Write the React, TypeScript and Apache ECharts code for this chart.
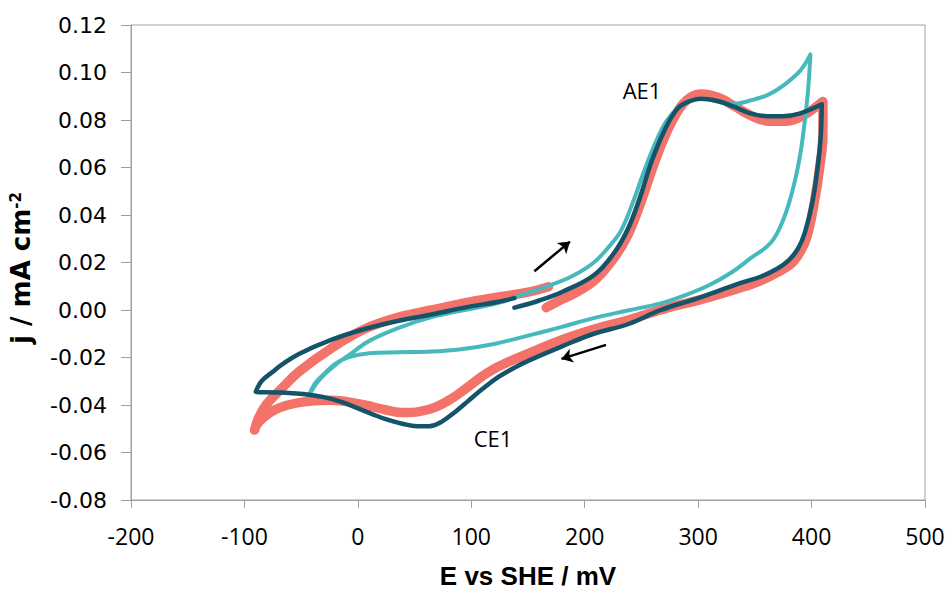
import React, { useEffect, useRef } from "react";
import * as echarts from "echarts";

// Potential E vs SHE (mV) and current density j (mA cm^-2), in scan order
const salmonScan: [number, number][] = [
  [166, 0.001], [180, 0.0045], [195, 0.008], [210, 0.013], [226, 0.022], [238, 0.0315],
  [250, 0.046], [260, 0.06], [271, 0.0735], [283, 0.0845], [293, 0.0895], [303, 0.091],
  [318, 0.0895], [333, 0.0855], [348, 0.0815], [363, 0.0795], [378, 0.0795], [393, 0.082],
  [410, 0.0878],
  [410, 0.074], [407, 0.0595], [402.5, 0.0455], [396, 0.031], [390, 0.0245], [382, 0.0195],
  [370, 0.0158], [355, 0.0123], [337, 0.0093], [303, 0.0045], [270, 0.0005], [240, -0.004],
  [210, -0.0078], [180, -0.0125], [152, -0.018], [124, -0.0238], [110, -0.0278], [96, -0.0328],
  [82, -0.0375], [68, -0.041], [54, -0.0428], [40, -0.0432], [24, -0.042], [6, -0.04],
  [-23, -0.038], [-52, -0.039], [-73, -0.042], [-87, -0.047], [-91, -0.0505],
  [-88, -0.046], [-81, -0.04], [-67, -0.033], [-52, -0.026], [-23, -0.016], [6, -0.008],
  [36, -0.003], [65, 0.0], [94, 0.003], [124, 0.0055], [150, 0.0075], [168, 0.0098],
];

const tealScan: [number, number][] = [
  [145, 0.0065], [170, 0.0105], [190, 0.0145], [208, 0.02], [222, 0.027], [232, 0.0334],
  [243, 0.046], [252, 0.058], [262, 0.07], [272, 0.0795], [283, 0.0855], [295, 0.0885],
  [305, 0.089], [317, 0.0878], [331, 0.0868], [346, 0.0882], [361, 0.0905], [375, 0.0945],
  [390, 0.1008], [399, 0.1076],
  [397, 0.093], [394, 0.0795], [390, 0.0655], [384, 0.0518], [375, 0.038], [364, 0.0283],
  [346, 0.0217], [330, 0.016], [310, 0.0105], [290, 0.0065], [267, 0.0028], [238, -0.0002],
  [208, -0.0034], [179, -0.0072], [150, -0.0108], [120, -0.0143], [91, -0.0165], [65, -0.0175],
  [36, -0.0178], [10, -0.0182], [-8, -0.0198], [-20, -0.0227], [-30, -0.027], [-38, -0.031],
  [-43, -0.036],
  [-35, -0.03], [-22, -0.024], [-5, -0.018], [10, -0.013], [36, -0.0075], [65, -0.003],
  [94, 0.0], [124, 0.003], [145, 0.0065],
];

const darkScan: [number, number][] = [
  [138, 0.001], [160, 0.004], [180, 0.0076], [208, 0.0146], [226, 0.0241], [238, 0.034],
  [249, 0.0477], [258, 0.0613], [270, 0.0753], [282, 0.0849], [293, 0.088], [302, 0.089],
  [317, 0.088], [331, 0.0857], [346, 0.0828], [361, 0.0816], [375, 0.0816], [390, 0.0828],
  [409, 0.0866],
  [408, 0.0725], [405, 0.0588], [400.5, 0.0448], [394, 0.0325], [388, 0.0258], [380, 0.021],
  [370, 0.0175], [355, 0.014], [337, 0.0113], [300, 0.005], [267, 0.0], [238, -0.006],
  [208, -0.01], [179, -0.0155], [152, -0.021], [138, -0.0243], [124, -0.0282], [110, -0.0332],
  [98, -0.038], [86, -0.0428], [74, -0.047], [63, -0.0489], [52, -0.0489], [40, -0.048],
  [26, -0.0462], [12, -0.0437], [-2, -0.041], [-16, -0.0385], [-30, -0.0367], [-48, -0.0354],
  [-68, -0.0347], [-90, -0.0345],
  [-85, -0.03], [-75, -0.026], [-67, -0.023], [-52, -0.0185], [-23, -0.0125], [6, -0.008],
  [36, -0.0045], [65, -0.0019], [94, 0.001], [124, 0.0035], [138, 0.005],
];

// Scan-direction arrows: [start, end] in (mV, mA cm^-2)
const anodicArrow: [number, number][] = [[155.6, 0.0163], [187.0, 0.0288]];
const cathodicArrow: [number, number][] = [[218.8, -0.0147], [179.5, -0.0206]];

const xTicks = { min: -200, max: 500, step: 100 };
const yTicks = { min: -0.08, max: 0.12, step: 0.02 };

const peakLabels = [
  { text: "AE1", x: 642, y: 90 },
  { text: "CE1", x: 493, y: 438 },
];

export default function App() {
  const ref = useRef<HTMLDivElement>(null);

  useEffect(() => {
    if (!ref.current) return;
    const chart = echarts.init(ref.current, null, { renderer: "svg" });
    const axisGray = "#a0a0a0";
    const lineSeries = (data: [number, number][], color: string, width: number) => ({
      type: "line",
      data,
      showSymbol: false,
      smooth: 0.4,
      silent: true,
      lineStyle: { color, width, cap: "round", join: "round" },
      itemStyle: { color },
    });

    chart.setOption({
      animation: false,
      grid: {
        left: 128,
        top: 25,
        right: 24,
        bottom: 85,
        show: true,
        borderColor: axisGray,
        borderWidth: 1,
      },
      xAxis: {
        type: "value",
        min: xTicks.min,
        max: xTicks.max,
        interval: xTicks.step,
        axisLine: { show: true, onZero: false, lineStyle: { color: axisGray, width: 1 } },
        axisTick: { show: true, length: 8, lineStyle: { color: axisGray } },
        splitLine: { show: false },
        axisLabel: {
          margin: 24,
          fontFamily: "Open Sans",
          fontSize: 23,
          color: "#000",
        },
        name: "E vs SHE / mV",
        nameLocation: "middle",
        nameGap: 63,
        nameTextStyle: {
          fontFamily: "Liberation Sans",
          fontWeight: "bold",
          fontSize: 26,
          color: "#000",
        },
      },
      yAxis: {
        type: "value",
        min: yTicks.min,
        max: yTicks.max,
        interval: yTicks.step,
        axisLine: { show: true, onZero: false, lineStyle: { color: axisGray, width: 1 } },
        axisTick: { show: true, length: 10, lineStyle: { color: axisGray } },
        splitLine: { show: false },
        axisLabel: {
          margin: 24,
          fontFamily: "DejaVu Sans",
          fontSize: 22,
          color: "#000",
          formatter: (v: number) => v.toFixed(2),
        },
        name: "{a|j / mA cm}{b|-2}",
        nameLocation: "middle",
        nameGap: 97,
        nameTextStyle: {
          padding: [0, 11, 0, 0],
          rich: {
            a: { fontFamily: "DejaVu Sans", fontWeight: "bold", fontSize: 26, color: "#000" },
            b: {
              fontFamily: "DejaVu Sans",
              fontWeight: "bold",
              fontSize: 15,
              color: "#000",
              verticalAlign: "top",
            },
          },
        },
      },
      series: [
        lineSeries(salmonScan, "#f3726a", 9.5),
        lineSeries(tealScan, "#47b9bd", 4),
        {
          ...lineSeries(darkScan, "#14546a", 4.5),
          markLine: {
            silent: true,
            symbol: ["none", "arrow"],
            symbolSize: 11,
            label: { show: false },
            lineStyle: { color: "#000", width: 2.5, type: "solid" },
            data: [
              [{ coord: anodicArrow[0] }, { coord: anodicArrow[1] }],
              [{ coord: cathodicArrow[0] }, { coord: cathodicArrow[1] }],
            ],
          },
        },
      ],
      graphic: peakLabels.map((p) => ({
        type: "text",
        x: p.x,
        y: p.y,
        silent: true,
        style: {
          text: p.text,
          fill: "#000",
          fontFamily: "Open Sans",
          fontSize: 22,
          textAlign: "center",
          textVerticalAlign: "middle",
        },
      })),
    });

    return () => chart.dispose();
  }, []);

  return (
    <div
      ref={ref}
      style={{ position: "fixed", left: 0, top: 0, width: 949, height: 594, background: "#fff" }}
    />
  );
}
